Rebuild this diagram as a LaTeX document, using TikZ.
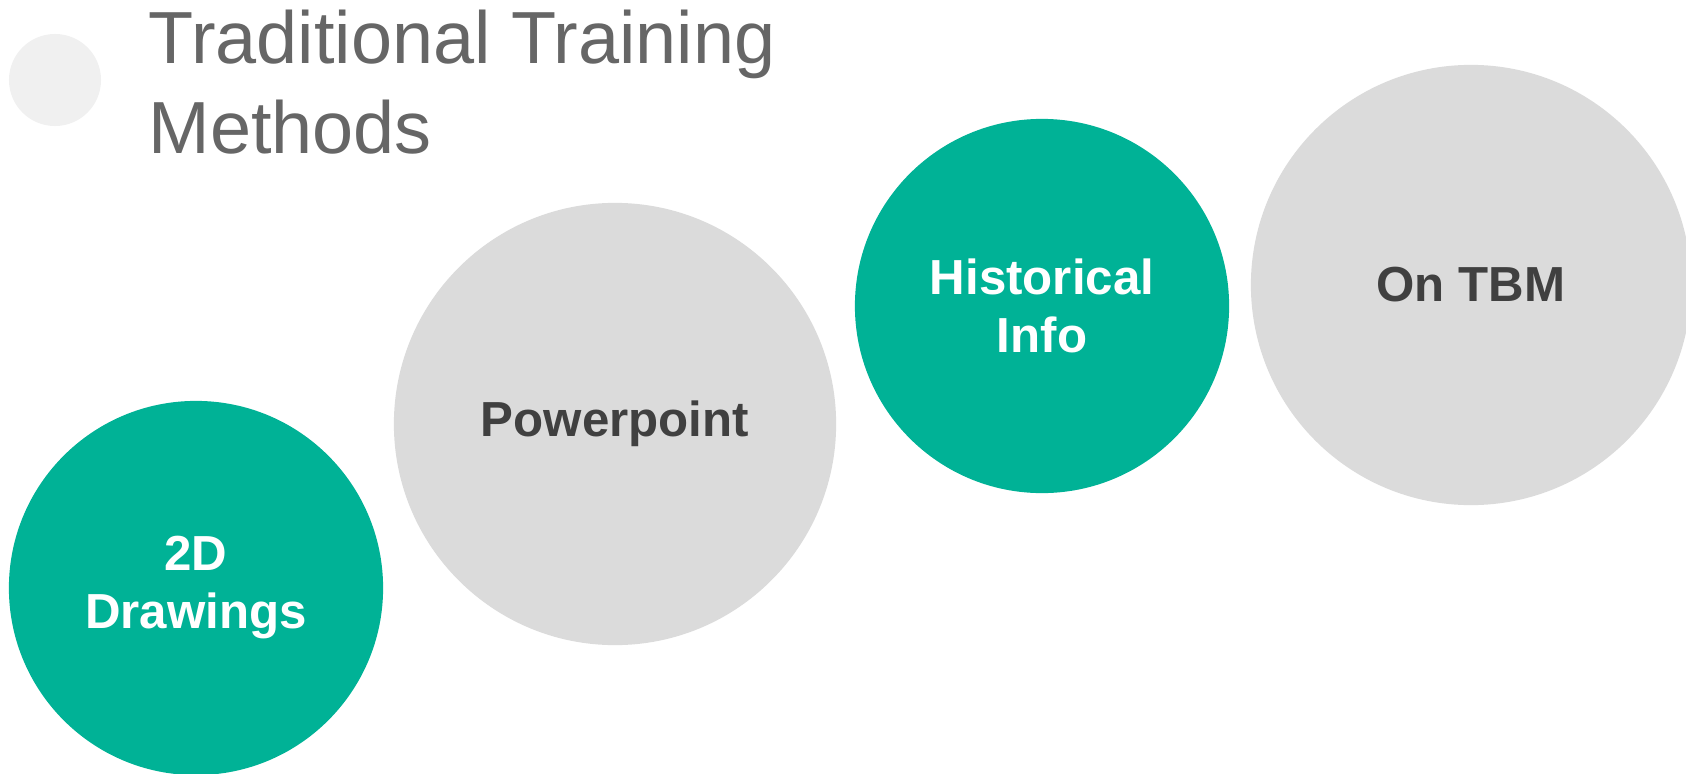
\documentclass[tikz,border=0pt]{standalone}
\usepackage{fontspec}
\setmainfont{Liberation Sans}
\definecolor{teal}{RGB}{0,178,150}
\definecolor{titlegray}{RGB}{102,102,102}
\definecolor{labelgray}{RGB}{64,64,64}
\tikzset{
	bubble/.style={circle, inner sep=0pt, align=center, font=\fontsize{14}{16.5}\selectfont\bfseries},
	greenbubble/.style={bubble, fill=teal, text=white},
	graybubble/.style={bubble, fill=gray!28, text=labelgray}
}
\begin{document}
\begin{tikzpicture}[x=0.01cm, y=-0.01cm]
		\useasboundingbox (0,0) rectangle (1686,773);

		% Title
		\node[circle, fill=black!6, minimum size=0.92cm, inner sep=0pt] (dot) at (55,80) {};
		\node[anchor=west, inner sep=0pt, align=left, text=titlegray, font=\fontsize{21}{25.6}\selectfont] (title) at (148,82) {Traditional Training\\Methods};

		% Define the bubbles
		\node[greenbubble, minimum size=3.74cm] (drawings) at (196,588) {2D\\Drawings};
		\node[graybubble, minimum size=4.42cm] (powerpoint) at (615,424) {Powerpoint};
		\node[greenbubble, minimum size=3.74cm] (historical) at (1042,306) {Historical\\Info};
		\node[graybubble, minimum size=4.40cm] (tbm) at (1471,285) {On TBM};
	\end{tikzpicture}
\end{document}
